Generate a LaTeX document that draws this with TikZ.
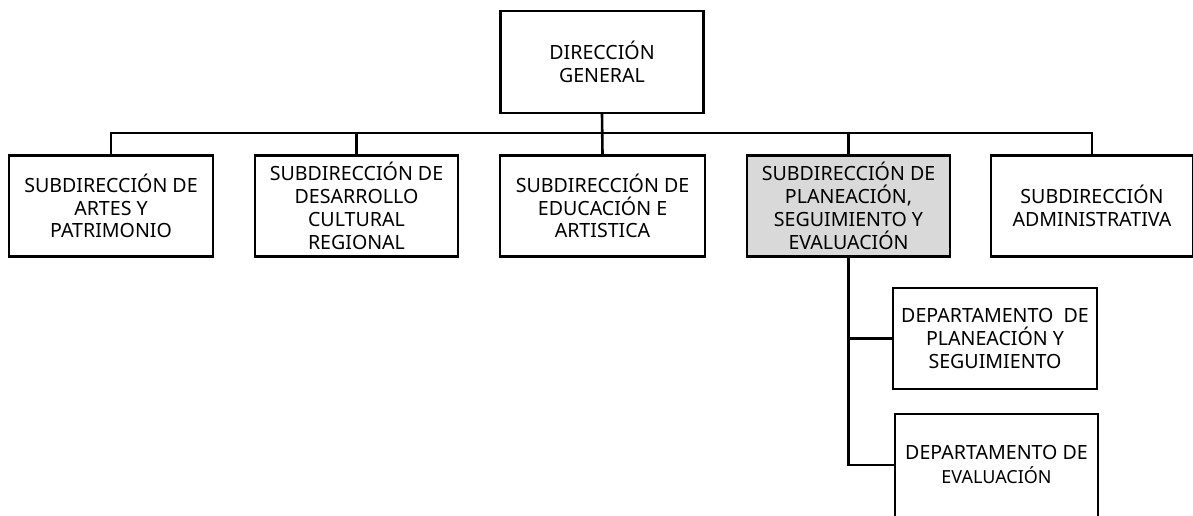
\documentclass[tikz,border=0pt]{standalone}
\usepackage{fontspec}
\setmainfont{Noto Sans}
\definecolor{boxgray}{HTML}{D9D9D9}
\begin{document}
\begin{tikzpicture}[x=1pt,y=-1pt,
  box/.style={draw, line width=2.4pt, minimum width=203pt, minimum height=101pt,
    inner sep=0pt, align=center, font=\fontsize{19.6}{22.8}\selectfont},
  conn/.style={line width=2.6pt}]
\useasboundingbox (0,0) rectangle (1193,515);
\node[box, minimum height=102pt] (dg) at (602,62) {DIRECCIÓN\\GENERAL};
\node[box, minimum width=204pt] (s1) at (111,206) {SUBDIRECCIÓN DE\\ARTES Y\\PATRIMONIO};
\node[box] (s2) at (356.5,206) {SUBDIRECCIÓN DE\\DESARROLLO\\CULTURAL\\REGIONAL};
\node[box, minimum width=205pt] (s3) at (602.5,206) {SUBDIRECCIÓN DE\\EDUCACIÓN E\\ARTISTICA};
\node[box, fill=boxgray] (s4) at (848.5,206) {SUBDIRECCIÓN DE\\PLANEACIÓN,\\SEGUIMIENTO Y\\EVALUACIÓN};
\node[box, minimum width=202pt] (s5) at (1092,206) {SUBDIRECCIÓN\\ADMINISTRATIVA};
\node[box, minimum width=204pt] (d1) at (995,338.5) {DEPARTAMENTO\ \ DE\\PLANEACIÓN Y\\SEGUIMIENTO};
\node[box, minimum height=106pt] (d2) at (996.5,467) {\raisebox{4pt}{\begin{tabular}{@{}c@{}}DEPARTAMENTO DE\\\fontsize{18}{21}\selectfont EVALUACIÓN\end{tabular}}};
\coordinate (bus) at (0,133);
\draw[conn] (s1.north) |- (s5.north |- bus) -- (s5.north);
\draw[conn] (dg.south) -- (s3.north);
\draw[conn] (s2.north) -- (s2.north |- bus);
\draw[conn] (s4.north) -- (s4.north |- bus);
\draw[conn] (s4.south) |- ([yshift=2pt]d2.west);
\draw[conn] (s4.south |- d1.west) -- (d1.west);
\end{tikzpicture}
\end{document}
